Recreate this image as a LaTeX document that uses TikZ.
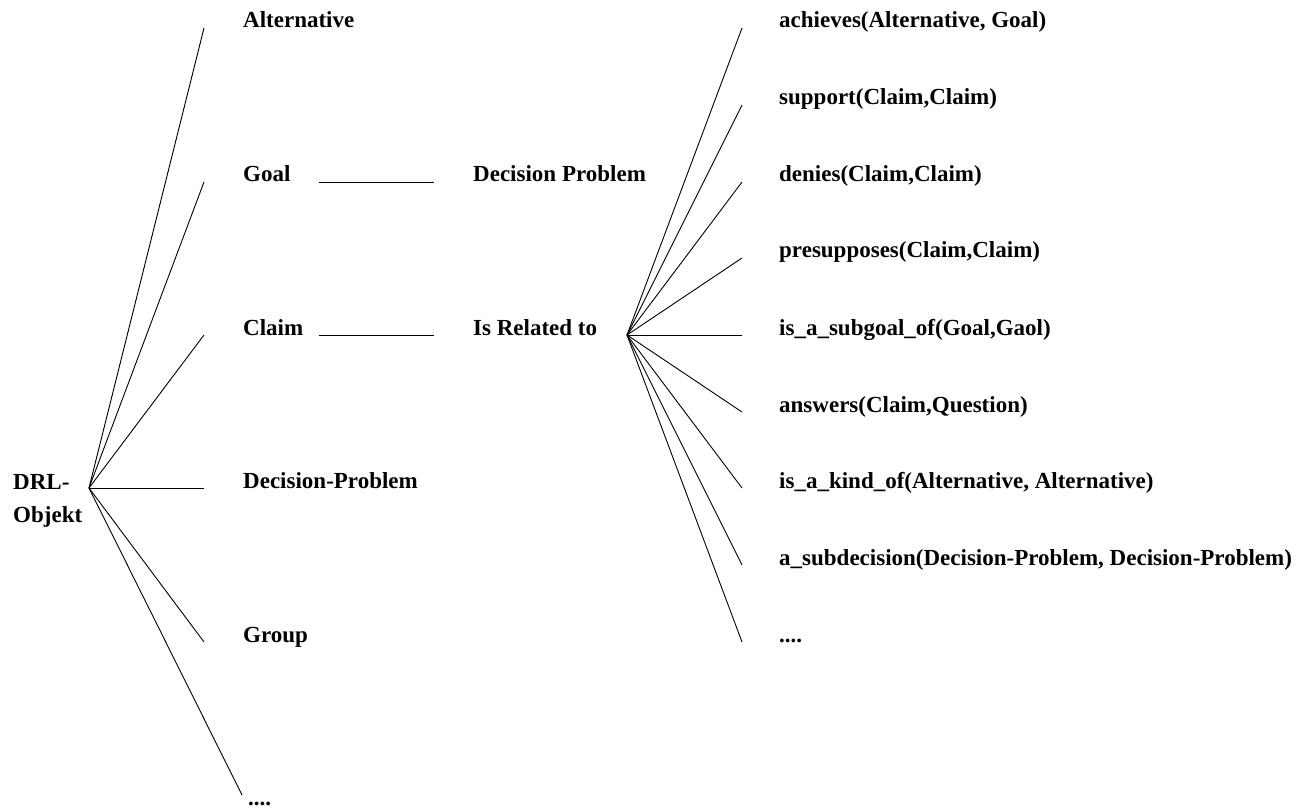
\documentclass[tikz,border=0pt]{standalone}
\usepackage{fontspec}
\setmainfont{Liberation Serif}
\begin{document}
\begin{tikzpicture}[x=1pt,y=-1pt,
  lbl/.style={anchor=base west,inner sep=0pt,font=\fontsize{23}{33}\selectfont\bfseries},
  link/.style={line width=0.9pt}]
\useasboundingbox (0,0) rectangle (1309,810);

% root of the object tree (base anchor sits on the last line)
\node[lbl,align=left] (drl) at (13,522) {DRL-\\Objekt};
\coordinate (root) at (89,488);

% object types
\node[lbl] (alt)   at (243,28)  {Alternative};
\node[lbl] (goal)  at (243,182) {Goal};
\node[lbl] (claim) at (243,335) {Claim};
\node[lbl] (dp)    at (243,488) {Decision-Problem};
\node[lbl] (group) at (243,642) {Group};
\node[lbl] (more)  at (248,805) {....};

\coordinate (eAlt)   at (204,28);
\coordinate (eGoal)  at (204,182);
\coordinate (eClaim) at (204,335);
\coordinate (eDp)    at (204,488);
\coordinate (eGroup) at (204,642);
\coordinate (eMore)  at (242,795);

\foreach \e in {eAlt,eGoal,eClaim,eDp,eGroup,eMore}
  \draw[link] (root) -- (\e);

% related concepts
\node[lbl] (decp) at (473,182) {Decision Problem};
\node[lbl] (rel)  at (473,335) {Is Related to};
\coordinate (gA) at (319,182);
\coordinate (gB) at (434,182);
\coordinate (cA) at (319,335);
\coordinate (cB) at (434,335);
\draw[link] (gA) -- (gB);
\draw[link] (cA) -- (cB);

% relations
\coordinate (fan) at (627,335);
\node[lbl] (r1) at (779,28)  {achieves(Alternative, Goal)};
\node[lbl] (r2) at (779,105) {support(Claim,Claim)};
\node[lbl] (r3) at (779,182) {denies(Claim,Claim)};
\node[lbl] (r4) at (779,258) {presupposes(Claim,Claim)};
\node[lbl] (r5) at (779,335) {is\_a\_subgoal\_of(Goal,Gaol)};
\node[lbl] (r6) at (779,412) {answers(Claim,Question)};
\node[lbl] (r7) at (779,488) {is\_a\_kind\_of(Alternative, Alternative)};
\node[lbl] (r8) at (779,565) {a\_subdecision(Decision-Problem, Decision-Problem)};
\node[lbl] (r9) at (779,642) {....};

\foreach \y [count=\i] in {28,105,182,258,335,412,488,565,642} {
  \coordinate (f\i) at (742,\y);
  \draw[link] (fan) -- (f\i);
}
\end{tikzpicture}
\end{document}
